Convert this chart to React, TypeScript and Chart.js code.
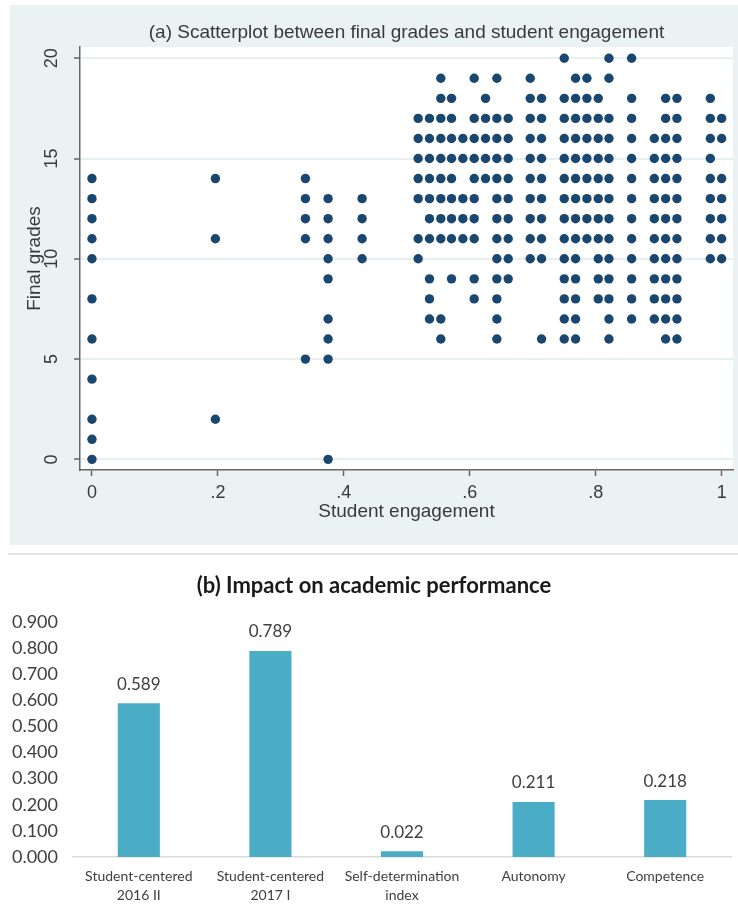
import React, { useEffect, useRef } from 'react';
import { Chart, registerables } from 'chart.js';

Chart.register(...registerables);

// ---------- Panel (a): scatter data ----------
const engagementLevels = [
  0, 0.196, 0.339, 0.375, 0.429, 0.518, 0.536, 0.554, 0.571, 0.589, 0.607, 0.625, 0.643, 0.661,
  0.696, 0.714, 0.75, 0.768, 0.786, 0.804, 0.821, 0.857, 0.893, 0.911, 0.929, 0.982, 1.0,
];
const gradesAtLevel = [
  [0, 1, 2, 4, 6, 8, 10, 11, 12, 13, 14],
  [2, 11, 14],
  [5, 11, 12, 13, 14],
  [0, 5, 6, 7, 9, 10, 11, 12, 13],
  [10, 11, 12, 13],
  [10, 11, 13, 14, 15, 16, 17],
  [7, 8, 9, 11, 12, 13, 14, 15, 16, 17],
  [6, 7, 11, 12, 13, 14, 15, 16, 17, 18, 19],
  [9, 11, 12, 13, 14, 15, 16, 17, 18],
  [11, 12, 13, 15, 16],
  [8, 9, 11, 12, 13, 14, 15, 16, 17, 19],
  [14, 15, 16, 17, 18],
  [6, 7, 8, 9, 10, 11, 12, 13, 14, 15, 16, 17, 19],
  [9, 10, 11, 12, 13, 14, 15, 16, 17],
  [10, 11, 12, 13, 14, 15, 16, 17, 18, 19],
  [6, 10, 11, 12, 13, 14, 15, 16, 17, 18],
  [6, 7, 8, 9, 10, 11, 12, 13, 14, 15, 16, 17, 18, 20],
  [6, 7, 8, 9, 10, 11, 12, 13, 14, 15, 16, 17, 18, 19],
  [11, 12, 13, 14, 15, 16, 17, 18, 19],
  [8, 9, 10, 11, 12, 13, 14, 15, 16, 17, 18],
  [6, 7, 8, 9, 10, 11, 12, 13, 14, 15, 16, 17, 19, 20],
  [7, 8, 9, 10, 11, 12, 13, 14, 15, 16, 17, 18, 20],
  [7, 8, 9, 10, 11, 12, 13, 14, 15, 16],
  [6, 7, 8, 9, 10, 11, 12, 13, 14, 15, 16, 17, 18],
  [6, 7, 8, 9, 10, 11, 12, 13, 14, 15, 16, 17, 18],
  [10, 11, 12, 13, 14, 15, 16, 17, 18],
  [10, 11, 12, 13, 14, 16, 17],
];
const xTickValues = [0, 0.2, 0.4, 0.6, 0.8, 1];
const yTickValues = [0, 5, 10, 15, 20];
const scatterTitle = '(a) Scatterplot between final grades and student engagement';
const scatterXTitle = 'Student engagement';
const scatterYTitle = 'Final grades';

// ---------- Panel (b): bar data ----------
const barCategories: (string | string[])[] = [
  ['Student-centered', '2016 II'],
  ['Student-centered', '2017 I'],
  ['Self-determination', 'index'],
  'Autonomy',
  'Competence',
];
const barValues = [0.589, 0.789, 0.022, 0.211, 0.218];
const barTickValues = [0, 0.1, 0.2, 0.3, 0.4, 0.5, 0.6, 0.7, 0.8, 0.9];
const barTitle = '(b) Impact on academic performance';

const ARIAL = "'Liberation Sans', Arial, sans-serif";
const CALIB = "Lato, 'Open Sans', sans-serif";

function fmtEng(v: number): string {
  if (v === 0) return '0';
  if (v === 1) return '1';
  return String(Math.round(v * 10) / 10).replace(/^0/, '');
}

export default function App() {
  const topRef = useRef<HTMLCanvasElement>(null);
  const botRef = useRef<HTMLCanvasElement>(null);

  useEffect(() => {
    const points = engagementLevels.flatMap((x, i) => gradesAtLevel[i].map((y) => ({ x, y })));

    const stataBg = {
      id: 'stataBg',
      beforeDraw(chart: any) {
        const { ctx, chartArea: ca, width, height } = chart;
        ctx.save();
        ctx.fillStyle = '#ffffff';
        ctx.fillRect(0, 0, width, height);
        ctx.fillStyle = '#eaf2f3';
        ctx.fillRect(10, 5, width - 10, 540);
        ctx.fillStyle = '#ffffff';
        ctx.fillRect(ca.left, ca.top, ca.right - ca.left, ca.bottom - ca.top);
        ctx.restore();
      },
      afterDraw(chart: any) {
        const { ctx, chartArea: ca } = chart;
        const ys = chart.scales.y;
        const cx = (ca.left + ca.right) / 2;
        ctx.save();
        ctx.fillStyle = '#3a3a3a';
        ctx.textAlign = 'center';
        ctx.textBaseline = 'middle';
        ctx.font = `19px ${ARIAL}`;
        ctx.fillText(scatterTitle, cx, 33);
        ctx.fillText(scatterXTitle, cx, 512);
        ctx.save();
        ctx.translate(35, (ca.top + ca.bottom) / 2);
        ctx.rotate(-Math.PI / 2);
        ctx.fillText(scatterYTitle, 0, 0);
        ctx.restore();
        ctx.font = `18px ${ARIAL}`;
        yTickValues.forEach((v) => {
          const py = ys.getPixelForValue(v);
          ctx.save();
          ctx.translate(52, py);
          ctx.rotate(-Math.PI / 2);
          ctx.fillText(String(v), 0, 0);
          ctx.restore();
        });
        ctx.restore();
      },
    };

    const c1 = new Chart(topRef.current as HTMLCanvasElement, {
      type: 'scatter',
      data: {
        datasets: [
          {
            data: points,
            backgroundColor: '#1a476f',
            borderWidth: 0,
            pointRadius: 4.7,
            pointHoverRadius: 4.7,
          },
        ],
      },
      options: {
        animation: false,
        responsive: false,
        events: [],
        layout: { padding: { top: 47, left: 0, right: 5, bottom: 18 } },
        plugins: { legend: { display: false }, tooltip: { enabled: false }, title: { display: false } },
        scales: {
          x: {
            type: 'linear',
            min: -0.019,
            max: 1.018,
            afterBuildTicks: (s: any) => {
              s.ticks = xTickValues.map((v) => ({ value: v }));
            },
            afterFit: (s: any) => {
              s.height = 60;
            },
            grid: { drawOnChartArea: false, drawTicks: true, tickLength: 6, tickColor: '#666', tickWidth: 1.5 },
            border: { color: '#666', width: 1.5 },
            ticks: {
              font: { family: ARIAL, size: 18 },
              color: '#3a3a3a',
              padding: 6,
              maxRotation: 0,
              autoSkip: false,
              callback: (v: any) => fmtEng(Number(v)),
            },
          },
          y: {
            type: 'linear',
            min: -0.53,
            max: 20.56,
            afterBuildTicks: (s: any) => {
              s.ticks = yTickValues.map((v) => ({ value: v }));
            },
            afterFit: (s: any) => {
              s.width = 80;
            },
            grid: { color: '#e6eff1', lineWidth: 2, drawTicks: true, tickLength: 6, tickColor: '#666', tickWidth: 1.5 },
            border: { color: '#666', width: 1.5 },
            ticks: { display: false },
          },
        },
      },
      plugins: [stataBg],
    } as any);

    const barDeco = {
      id: 'barDeco',
      beforeDraw(chart: any) {
        const { ctx, width, height } = chart;
        ctx.save();
        ctx.fillStyle = '#ffffff';
        ctx.fillRect(0, 0, width, height);
        ctx.strokeStyle = '#e4e4e4';
        ctx.lineWidth = 2;
        ctx.beginPath();
        ctx.moveTo(8, 6);
        ctx.lineTo(width, 6);
        ctx.stroke();
        ctx.restore();
      },
      afterDatasetsDraw(chart: any) {
        const { ctx } = chart;
        const meta = chart.getDatasetMeta(0);
        ctx.save();
        ctx.fillStyle = '#404040';
        ctx.textAlign = 'center';
        ctx.textBaseline = 'middle';
        ctx.font = `17px ${CALIB}`;
        meta.data.forEach((bar: any, i: number) => {
          ctx.fillText(barValues[i].toFixed(3), bar.x, bar.y - 19);
        });
        ctx.fillStyle = '#1a1a1a';
        ctx.font = `bold 22px ${CALIB}`;
        ctx.fillText(barTitle, 374, 38);
        ctx.restore();
      },
    };

    const c2 = new Chart(botRef.current as HTMLCanvasElement, {
      type: 'bar',
      data: {
        labels: barCategories,
        datasets: [
          {
            data: barValues,
            backgroundColor: '#4bacc6',
            categoryPercentage: 1,
            barPercentage: 0.32,
          },
        ],
      },
      options: {
        animation: false,
        responsive: false,
        events: [],
        layout: { padding: { top: 74, left: 0, right: 7, bottom: 0 } },
        plugins: { legend: { display: false }, tooltip: { enabled: false }, title: { display: false } },
        scales: {
          x: {
            afterFit: (s: any) => {
              s.height = 47;
            },
            grid: { display: false, drawTicks: false },
            border: { display: true, color: '#d9d9d9', width: 1.5 },
            ticks: {
              font: { family: CALIB, size: 14, lineHeight: '19px' },
              color: '#404040',
              padding: 10,
              maxRotation: 0,
              autoSkip: false,
            },
          },
          y: {
            min: 0,
            max: 0.9,
            afterBuildTicks: (s: any) => {
              s.ticks = barTickValues.map((v) => ({ value: v }));
            },
            afterFit: (s: any) => {
              s.width = 73;
            },
            grid: { display: false, drawTicks: false },
            border: { display: false },
            ticks: {
              font: { family: CALIB, size: 18 },
              color: '#404040',
              padding: 15,
              callback: (v: any) => Number(v).toFixed(3),
            },
          },
        },
      },
      plugins: [barDeco],
    } as any);

    return () => {
      c1.destroy();
      c2.destroy();
    };
  }, []);

  return (
    <div style={{ position: 'absolute', left: 0, top: 0, width: 738, height: 904, background: '#ffffff' }}>
      <canvas ref={topRef} width={738} height={548} style={{ position: 'absolute', left: 0, top: 0 }} />
      <canvas ref={botRef} width={738} height={356} style={{ position: 'absolute', left: 0, top: 548 }} />
    </div>
  );
}
